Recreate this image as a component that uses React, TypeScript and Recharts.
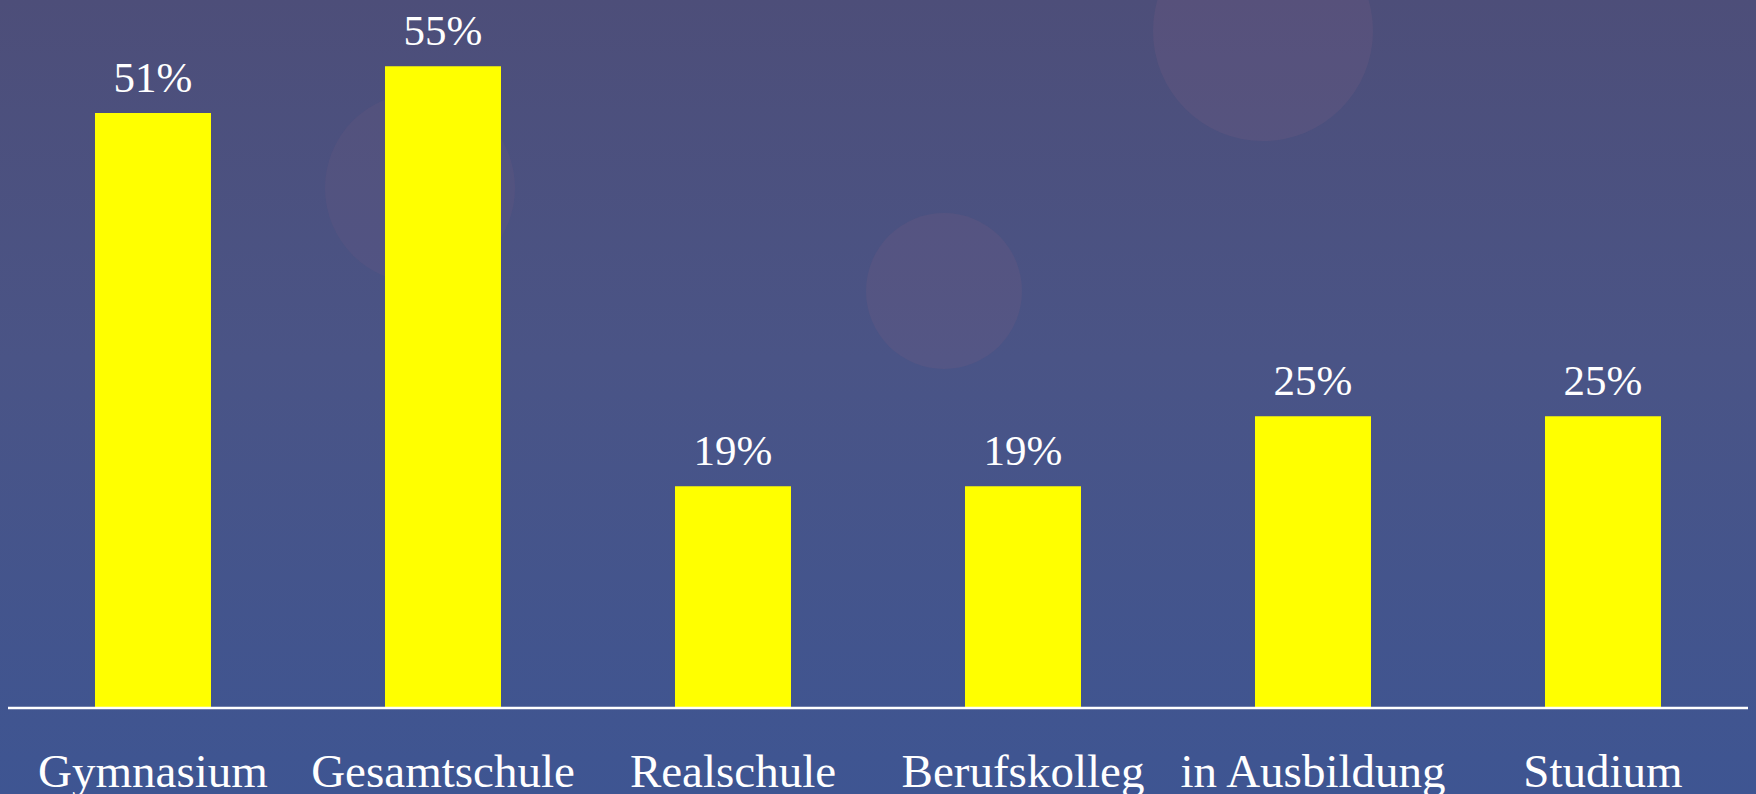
import React from "react";
import { BarChart, Bar, XAxis, YAxis, LabelList } from "recharts";

const categories = ["Gymnasium", "Gesamtschule", "Realschule", "Berufskolleg", "in Ausbildung", "Studium"];
const shares = [51, 55, 19, 19, 25, 25];

const data = categories.map((name, i) => ({ name, value: shares[i] }));

const FONT = '"Liberation Serif", "DejaVu Serif", serif';

const CategoryTick = (props: any) => {
  const { x, y, payload } = props;
  return (
    <text x={x} y={y + 71} textAnchor="middle" fill="#ffffff" fontFamily={FONT} fontSize={47}>
      {payload.value}
    </text>
  );
};

const bubbles = [
  { cx: 1263, cy: 31, r: 110, a: 0.22 },
  { cx: 944, cy: 291, r: 78, a: 0.2 },
  { cx: 420, cy: 188, r: 95, a: 0.16 },
];

export default function App() {
  return (
    <div
      style={{
        position: "absolute",
        left: 0,
        top: 0,
        width: 1756,
        height: 794,
        overflow: "hidden",
        background: "linear-gradient(180deg, #4d4e79 0%, #4a5486 45%, #3e5592 100%)",
      }}
    >
      {bubbles.map((b, i) => (
        <div
          key={i}
          style={{
            position: "absolute",
            left: b.cx - b.r,
            top: b.cy - b.r,
            width: b.r * 2,
            height: b.r * 2,
            borderRadius: "50%",
            background: `rgba(125, 95, 130, ${b.a})`,
          }}
        />
      ))}
      <div style={{ position: "absolute", left: 0, top: 0 }}>
        <BarChart
          width={1756}
          height={794}
          data={data}
          margin={{ top: 8, right: 8, bottom: 0, left: 8 }}
          barCategoryGap="30%"
        >
          <XAxis
            dataKey="name"
            height={86}
            tickLine={false}
            axisLine={{ stroke: "#ffffff", strokeWidth: 2.5 }}
            tick={<CategoryTick />}
            interval={0}
          />
          <YAxis hide domain={[0, 60]} width={0} />
          <Bar dataKey="value" fill="#ffff00" isAnimationActive={false}>
            <LabelList
              dataKey="value"
              position="top"
              offset={21}
              formatter={(v: any) => `${v}%`}
              fill="#ffffff"
              fontFamily={FONT}
              fontSize={43}
            />
          </Bar>
        </BarChart>
      </div>
    </div>
  );
}
